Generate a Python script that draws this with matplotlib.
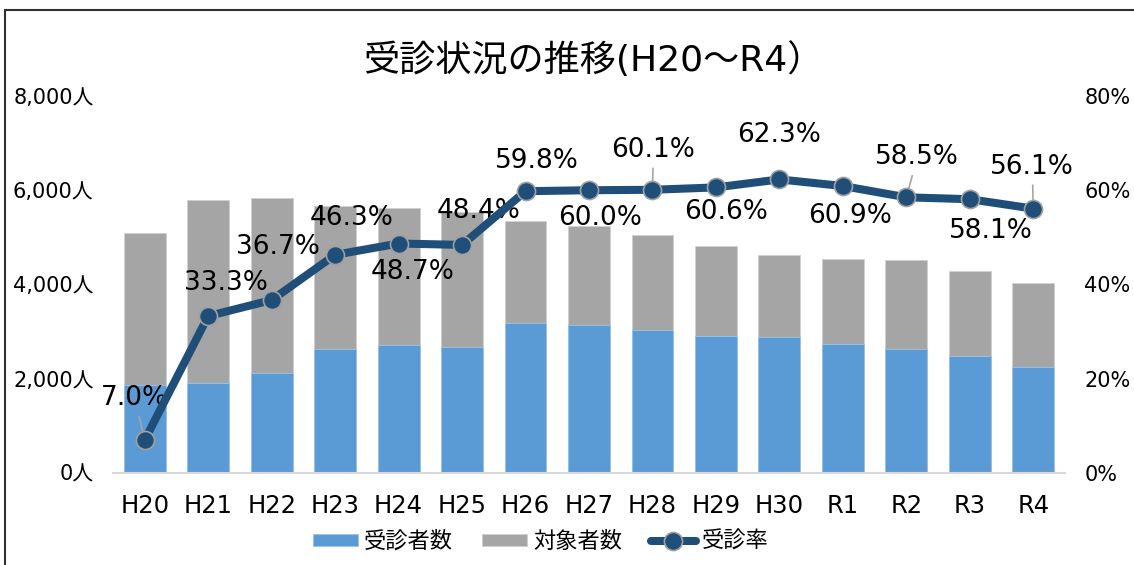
import matplotlib
matplotlib.use('Agg')
import matplotlib.pyplot as plt
from matplotlib.patches import Rectangle
from matplotlib.ticker import FuncFormatter, MultipleLocator

# DejaVu for the latin glyphs (wide, like the original), Noto CJK for kanji
plt.rcParams['font.family'] = ['DejaVu Sans', 'Noto Sans CJK JP']

years = ['H20', 'H21', 'H22', 'H23', 'H24', 'H25', 'H26', 'H27', 'H28',
         'H29', 'H30', 'R1', 'R2', 'R3', 'R4']
# 受診者数 / 対象者数
examinees = [1860, 1920, 2130, 2630, 2720, 2670, 3190, 3130, 3030,
             2910, 2880, 2740, 2640, 2490, 2240]
targets = [5100, 5790, 5840, 5670, 5630, 5530, 5340, 5240, 5040,
           4810, 4630, 4540, 4510, 4290, 4030]
# 受診率 (%)
rate = [7.0, 33.3, 36.7, 46.3, 48.7, 48.4, 59.8, 60.0, 60.1,
        60.6, 62.3, 60.9, 58.5, 58.1, 56.1]

# label placement in pixels from the point (dx, dy up)
label_offsets = [(-10, 42), (18, 33), (6, 53), (16, 37), (14, -28), (17, 34),
                 (11, 30), (11, -28), (1, 40), (10, -25), (0, 44), (7, -30),
                 (11, 40), (21, -32), (-1, 42)]
leaders = [0, 8, 12, 14]

blue = '#5B9BD5'
gray = '#A5A5A5'
navy = '#1F4E79'

W, H = 1134, 565
fig = plt.figure(figsize=(W / 100, H / 100), dpi=100)
ax = fig.add_axes([113 / W, 1 - 473 / H, (1065 - 113) / W, (473 - 96) / H])

x = list(range(len(years)))
b1 = ax.bar(x, targets, width=0.66, color=gray, edgecolor='#D0D0D0', linewidth=0.6, label='対象者数')
b2 = ax.bar(x, examinees, width=0.66, color=blue, edgecolor='#9CC3E6', linewidth=0.6, label='受診者数')

ax.set_xlim(-0.5, len(years) - 0.5)
ax.set_ylim(0, 8000)
ax.yaxis.set_major_locator(MultipleLocator(2000))
ax.yaxis.set_major_formatter(FuncFormatter(lambda v, p: f'{int(v):,}人'))
ax.set_xticks(x)
ax.set_xticklabels(years)
ax.tick_params(axis='x', length=0, pad=15, labelsize=17.5)
ax.tick_params(axis='y', length=0, pad=14, labelsize=15)
for s in ['top', 'right', 'left']:
    ax.spines[s].set_visible(False)
ax.spines['bottom'].set_color('#D9D9D9')
ax.spines['bottom'].set_linewidth(1.5)

ax2 = ax.twinx()
ax2.set_ylim(0, 80)
ax2.yaxis.set_major_locator(MultipleLocator(20))
ax2.yaxis.set_major_formatter(FuncFormatter(lambda v, p: f'{int(v)}%'))
ax2.tick_params(axis='y', length=0, pad=14, labelsize=15)
for s in ['top', 'right', 'left', 'bottom']:
    ax2.spines[s].set_visible(False)

ln, = ax2.plot(x, rate, color=navy, linewidth=5.8, marker='o', markersize=13,
               markerfacecolor=navy, markeredgecolor='#A0A0A0', markeredgewidth=1.2,
               solid_capstyle='round', zorder=5, label='受診率')

for i, (r, (dx, dy)) in enumerate(zip(rate, label_offsets)):
    arrow = dict(arrowstyle='-', color='#A5A5A5', lw=1.2, shrinkA=2, shrinkB=0) if i in leaders else None
    ax2.annotate(f'{r:.1f}%', (i, r), xytext=(dx, dy), textcoords='offset pixels',
                 ha='center', va='center', fontsize=19, color='black',
                 arrowprops=arrow, zorder=4)

fig.text(593 / W, 1 - 60 / H, '受診状況の推移(H20～R4）', ha='center', va='center', fontsize=26)

fig.legend([b2, b1, ln], ['受診者数', '対象者数', '受診率'], loc='center',
           bbox_to_anchor=(541 / W, 1 - 541 / H), ncol=3, frameon=False,
           fontsize=16, handlelength=2.0, handleheight=0.45,
           handletextpad=0.3, columnspacing=1.3)

# outer chart frame
fig.patches.append(Rectangle((5 / W, -0.1), 1.2, 1.1 - 10 / H, transform=fig.transFigure,
                             fill=False, edgecolor='#303030', linewidth=1.5))

fig.savefig('out.png', dpi=100)
